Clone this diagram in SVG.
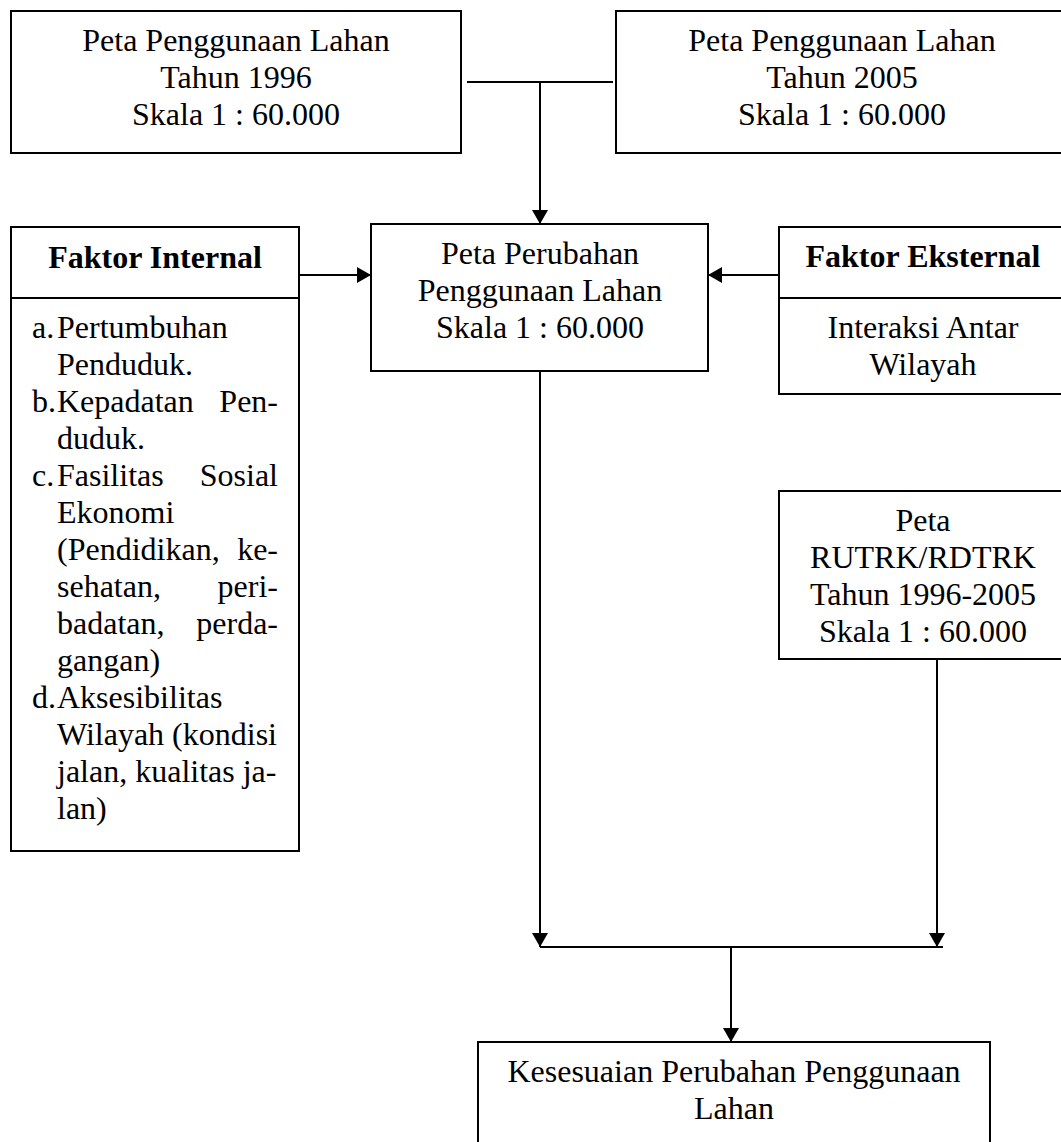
<svg xmlns="http://www.w3.org/2000/svg" width="1061" height="1142" viewBox="0 0 1061 1142">
<style>
.box{fill:#fff;stroke:#000;stroke-width:2}
.t{font-family:"Liberation Serif","Times New Roman",serif;font-size:32px;fill:#000}
.c{text-anchor:middle}
.e{text-anchor:end}
.b{font-weight:bold}
.con{fill:none;stroke:#000;stroke-width:2}
</style>
<defs>
<marker id="arr" markerUnits="userSpaceOnUse" markerWidth="16" markerHeight="16" refX="14" refY="8" orient="auto">
<path d="M0,0 L14,8 L0,16 z" fill="#000"/>
</marker>
</defs>
<rect width="1061" height="1142" fill="#fff"/>
<g id="connectors">
<path class="con" d="M467,82 H613"/>
<path class="con" d="M540,82 V224" marker-end="url(#arr)"/>
<path class="con" d="M299,275 H371" marker-end="url(#arr)"/>
<path class="con" d="M779,275 H708" marker-end="url(#arr)"/>
<path class="con" d="M540,371 V947" marker-end="url(#arr)"/>
<path class="con" d="M937,659 V947" marker-end="url(#arr)"/>
<path class="con" d="M540,947 H943"/>
<path class="con" d="M731,947 V1042" marker-end="url(#arr)"/>
</g>
<g id="peta1996">
<rect class="box" x="11" y="11" width="450" height="142"/>
<text class="t c" x="236" y="51">Peta Penggunaan Lahan</text>
<text class="t c" x="236" y="88">Tahun 1996</text>
<text class="t c" x="236" y="125">Skala 1 : 60.000</text>
</g>
<g id="peta2005">
<rect class="box" x="616" y="11" width="452" height="142"/>
<text class="t c" x="842" y="51">Peta Penggunaan Lahan</text>
<text class="t c" x="842" y="88">Tahun 2005</text>
<text class="t c" x="842" y="125">Skala 1 : 60.000</text>
</g>
<g id="perubahan">
<rect class="box" x="371" y="224" width="337" height="147"/>
<text class="t c" x="540" y="264">Peta Perubahan</text>
<text class="t c" x="540" y="301">Penggunaan Lahan</text>
<text class="t c" x="540" y="338">Skala 1 : 60.000</text>
</g>
<g id="faktor-internal">
<rect class="box" x="11" y="227" width="288" height="624"/>
<line class="con" x1="11" y1="298" x2="299" y2="298"/>
<text class="t c b" x="155" y="268">Faktor Internal</text>
<text class="t" x="32" y="338">a.</text>
<text class="t" x="57" y="338">Pertumbuhan</text>
<text class="t" x="57" y="375">Penduduk.</text>
<text class="t" x="32" y="412">b.</text>
<text class="t" x="57" y="412">Kepadatan</text>
<text class="t e" x="278" y="412">Pen-</text>
<text class="t" x="57" y="449">duduk.</text>
<text class="t" x="32" y="486">c.</text>
<text class="t" x="57" y="486">Fasilitas</text>
<text class="t e" x="278" y="486">Sosial</text>
<text class="t" x="57" y="523">Ekonomi</text>
<text class="t" x="57" y="560">(Pendidikan,</text>
<text class="t e" x="278" y="560">ke-</text>
<text class="t" x="57" y="597">sehatan,</text>
<text class="t e" x="278" y="597">peri-</text>
<text class="t" x="57" y="634">badatan,</text>
<text class="t e" x="278" y="634">perda-</text>
<text class="t" x="57" y="671">gangan)</text>
<text class="t" x="32" y="708">d.</text>
<text class="t" x="57" y="708">Aksesibilitas</text>
<text class="t" x="57" y="745">Wilayah (kondisi</text>
<text class="t" x="57" y="782">jalan, kualitas ja-</text>
<text class="t" x="57" y="819">lan)</text>
</g>
<g id="faktor-eksternal">
<rect class="box" x="779" y="227" width="289" height="167"/>
<line class="con" x1="779" y1="298" x2="1068" y2="298"/>
<text class="t c b" x="923" y="267">Faktor Eksternal</text>
<text class="t c" x="923" y="338">Interaksi Antar</text>
<text class="t c" x="923" y="375">Wilayah</text>
</g>
<g id="rutrk">
<rect class="box" x="779" y="491" width="289" height="168"/>
<text class="t c" x="923" y="531">Peta</text>
<text class="t c" x="923" y="568">RUTRK/RDTRK</text>
<text class="t c" x="923" y="605">Tahun 1996-2005</text>
<text class="t c" x="923" y="642">Skala 1 : 60.000</text>
</g>
<g id="kesesuaian">
<rect class="box" x="478" y="1042" width="512" height="120"/>
<text class="t c" x="734" y="1082">Kesesuaian Perubahan Penggunaan</text>
<text class="t c" x="734" y="1119">Lahan</text>
</g>
</svg>
